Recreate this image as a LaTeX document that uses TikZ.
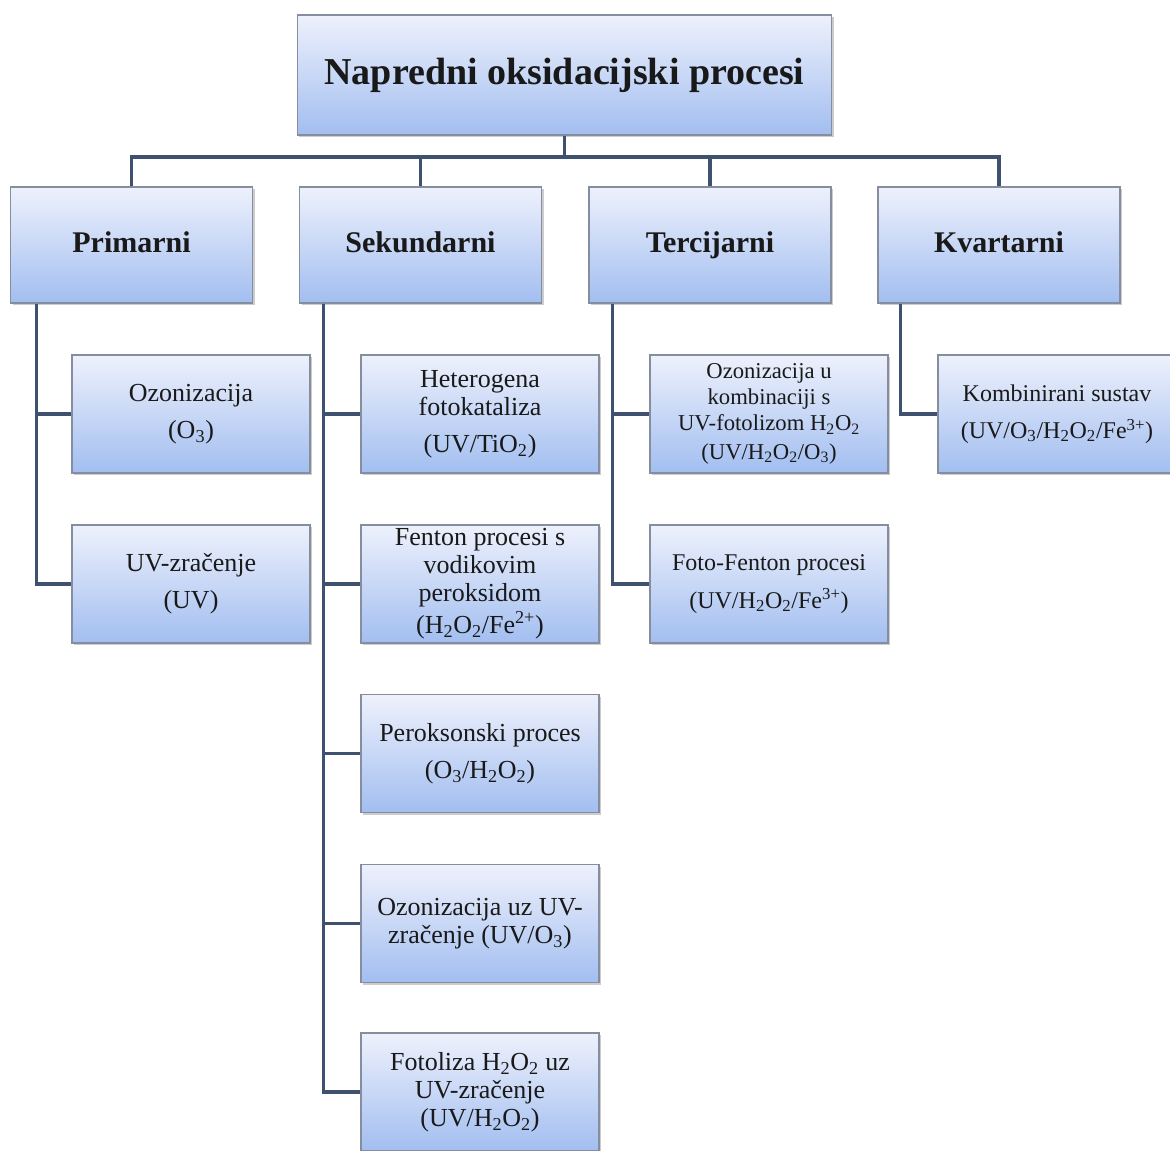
\documentclass[tikz,border=0pt]{standalone}
\usepackage{fontspec}
\setmainfont{Liberation Serif}
\usetikzlibrary{shadows}

\definecolor{boxtop}{RGB}{238,241,252}
\definecolor{boxbot}{RGB}{162,190,240}
\definecolor{boxline}{RGB}{132,142,158}
\definecolor{treeline}{RGB}{62,82,112}

\begin{document}
\begin{tikzpicture}[x=0.75pt, y=-0.75pt,
  box/.style={draw=boxline, line width=0.9pt, top color=boxtop, bottom color=boxbot,
    drop shadow={shadow xshift=1.6pt, shadow yshift=-1.6pt, opacity=0.4},
    align=center, inner sep=2pt, text=black!90},
  rootbox/.style={box, minimum width=401pt, minimum height=90pt,
    font=\fontsize{28.5}{34}\selectfont\bfseries},
  groupbox/.style={box, minimum width=181.5pt, minimum height=87pt,
    text height=16pt, text depth=5pt,
    font=\fontsize{22.5}{27}\selectfont\bfseries},
  leafbox/.style={box, minimum width=178.5pt, minimum height=88.5pt,
    font=\fontsize{19.5}{21}\selectfont},
  tree/.style={draw=treeline, line width=2.3pt}]
  \def\gap{\\[7pt]}

  \clip (0,0) rectangle (1170,1151);
  \fill[white] (0,0) rectangle (1170,1151);

  % root and the four groups
  \node[rootbox] (root) at (564.5,75) {Napredni oksidacijski procesi};

  \node[groupbox] (prim) at (131.5,245) {Primarni};
  \node[groupbox] (sek)  at (420.5,245) {Sekundarni};
  \node[groupbox] (ter)  at (710,245)   {Tercijarni};
  \node[groupbox] (kvar) at (999,245)   {Kvartarni};

  % primarni
  \node[leafbox] (ozon) at (191,414) {Ozonizacija\gap(O\textsubscript{3})};
  \node[leafbox] (uvz)  at (191,584) {UV-zračenje\gap(UV)};

  % sekundarni
  \node[leafbox] (hetero) at (480,414) {Heterogena\\fotokataliza\gap(UV/TiO\textsubscript{2})};
  \node[leafbox] (fenton) at (480,584) {Fenton procesi s\\vodikovim\\peroksidom\\[3pt](H\textsubscript{2}O\textsubscript{2}/Fe\textsuperscript{2+})};
  \node[leafbox] (perok)  at (480,753.5) {Peroksonski proces\gap(O\textsubscript{3}/H\textsubscript{2}O\textsubscript{2})};
  \node[leafbox] (ozuv)   at (480,923.5) {Ozonizacija uz UV-\\zračenje\ (UV/O\textsubscript{3})};
  \node[leafbox] (fotol)  at (480,1092) {Fotoliza H\textsubscript{2}O\textsubscript{2} uz\\UV-zračenje\\(UV/H\textsubscript{2}O\textsubscript{2})};

  % tercijarni
  \node[leafbox, font=\fontsize{17}{19.5}\selectfont] (ozkomb) at (769,414)
    {Ozonizacija u\\kombinaciji s\\UV-fotolizom H\textsubscript{2}O\textsubscript{2}\\[2pt](UV/H\textsubscript{2}O\textsubscript{2}/O\textsubscript{3})};
  \node[leafbox, font=\fontsize{18}{21}\selectfont] (fotofen) at (769,584)
    {Foto-Fenton procesi\gap(UV/H\textsubscript{2}O\textsubscript{2}/Fe\textsuperscript{3+})};

  % kvartarni
  \node[leafbox, font=\fontsize{18}{21}\selectfont] (komb) at (1057,414)
    {Kombinirani sustav\gap(UV/O\textsubscript{3}/H\textsubscript{2}O\textsubscript{2}/Fe\textsuperscript{3+})};

  % connectors
  \coordinate (bar) at (564.5,157);
  \draw[tree] (root.south) -- (bar);
  \foreach \g in {prim,sek,ter,kvar}
    \draw[tree] (\g.north) |- (bar);

  \foreach \c in {ozon,uvz}
    \draw[tree] (prim.south west) ++(27,0) |- (\c.west);
  \foreach \c in {hetero,fenton,perok,ozuv,fotol}
    \draw[tree] (sek.south west) ++(25,0) |- (\c.west);
  \foreach \c in {ozkomb,fotofen}
    \draw[tree] (ter.south west) ++(24,0) |- (\c.west);
  \draw[tree] (kvar.south west) ++(23,0) |- (komb.west);
\end{tikzpicture}
\end{document}
